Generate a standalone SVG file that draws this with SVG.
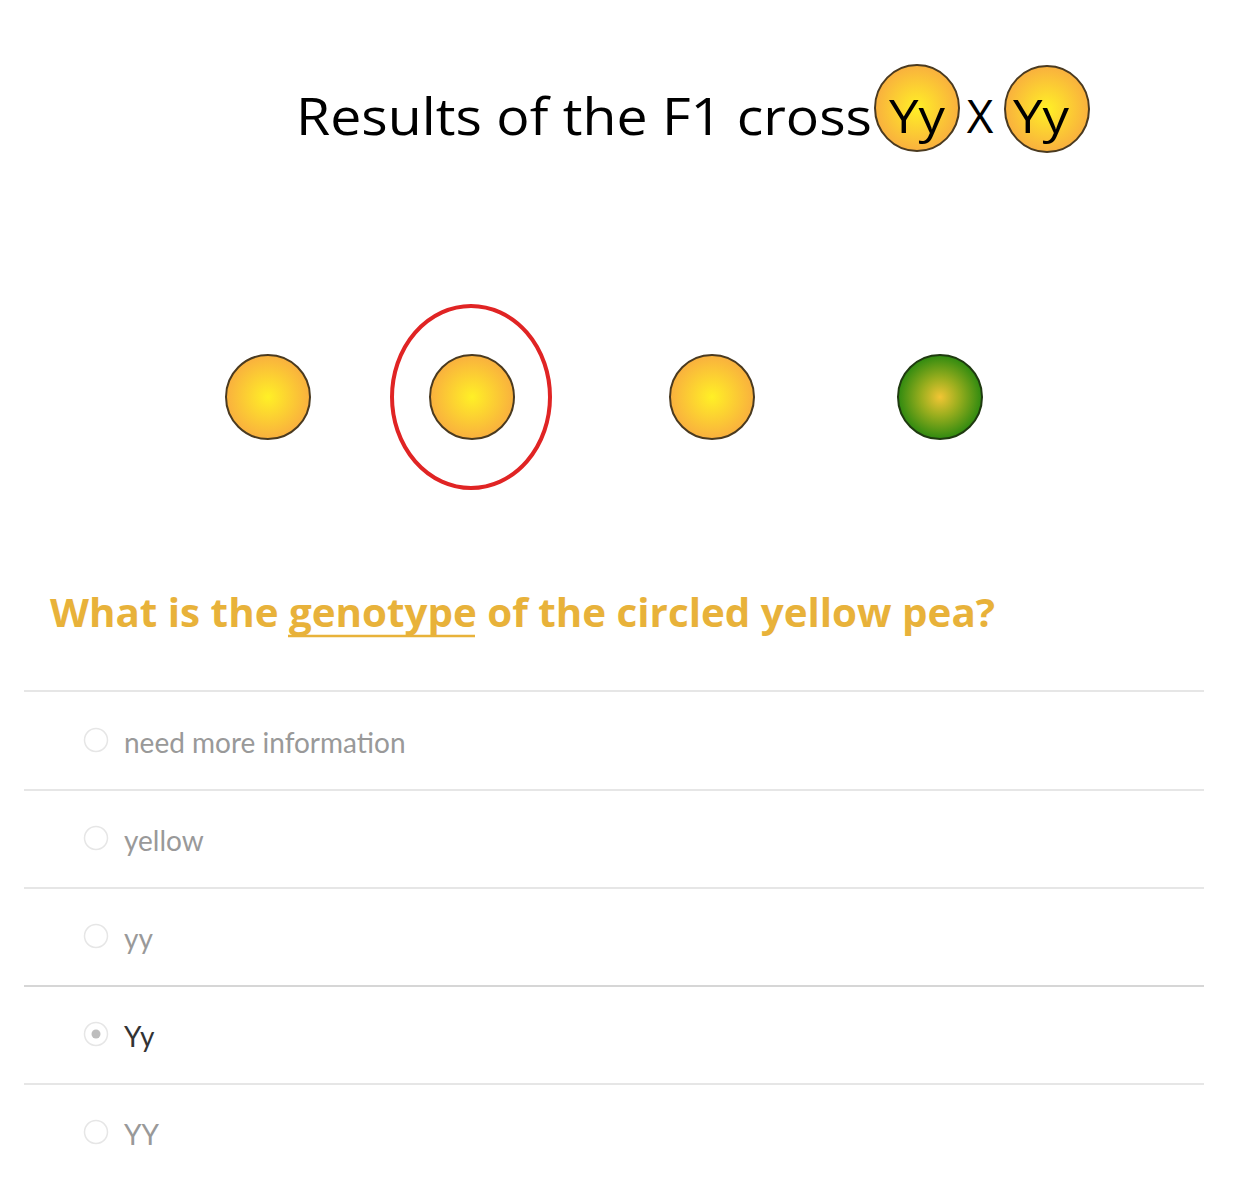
<svg xmlns="http://www.w3.org/2000/svg" width="1240" height="1202" viewBox="0 0 1240 1202">
<defs>
<radialGradient id="gy" cx="50%" cy="50%" r="50%">
<stop offset="0" stop-color="#FFF026"/>
<stop offset="1" stop-color="#F9B03E"/>
</radialGradient>
<radialGradient id="gg" cx="50%" cy="50%" r="50%">
<stop offset="0" stop-color="#F2C534"/>
<stop offset="0.45" stop-color="#9AAE1E"/>
<stop offset="1" stop-color="#2F8A10"/>
</radialGradient>
<style>
.pea{stroke:#4a3a20;stroke-width:2}
.sep{stroke:#e6e6e6;stroke-width:2}
.radio{fill:#fff;stroke:#e6e6e6;stroke-width:1.5}
.opt{font-family:Lato,"Open Sans",sans-serif;font-size:28px;fill:#999}
.title{font-family:"Open Sans","Liberation Sans",sans-serif;fill:#000}
</style>
</defs>
<rect width="1240" height="1202" fill="#fff"/>
<g id="title">
<text class="title" x="296" y="135" font-size="52" textLength="576" lengthAdjust="spacingAndGlyphs">Results of the F1 cross</text>
</g>
<g id="parent1">
<ellipse cx="917" cy="108" rx="42" ry="43" fill="url(#gy)" class="pea"/>
<text class="title" x="917" y="133" font-size="46" text-anchor="middle" textLength="56" lengthAdjust="spacingAndGlyphs">Yy</text>
</g>
<g id="cross">
<text class="title" x="980" y="133" font-size="46" text-anchor="middle">X</text>
</g>
<g id="parent2">
<ellipse cx="1047" cy="109" rx="42" ry="43" fill="url(#gy)" class="pea"/>
<text class="title" x="1041" y="133" font-size="46" text-anchor="middle" textLength="56" lengthAdjust="spacingAndGlyphs">Yy</text>
</g>
<g id="pea1"><circle cx="268" cy="397" r="42" fill="url(#gy)" class="pea"/></g>
<g id="pea2">
<circle cx="472" cy="397" r="42" fill="url(#gy)" class="pea"/>
<ellipse cx="471" cy="397" rx="79" ry="91" fill="none" stroke="#E02424" stroke-width="4"/>
</g>
<g id="pea3"><circle cx="712" cy="397" r="42" fill="url(#gy)" class="pea"/></g>
<g id="pea4"><circle cx="940" cy="397" r="42" fill="url(#gg)" stroke="#1f3a10" stroke-width="2"/></g>
<g id="question">
<text x="50" y="627" font-family="'Open Sans','Liberation Sans',sans-serif" font-weight="bold" font-size="40" fill="#E8B23A" textLength="945" lengthAdjust="spacingAndGlyphs">What is the genotype of the circled yellow pea?</text>
<line x1="288" y1="636" x2="475" y2="636" stroke="#E8B23A" stroke-width="2.5"/>
</g>
<g id="connectors">
<line class="sep" x1="24" y1="691" x2="1204" y2="691"/>
<line class="sep" x1="24" y1="790" x2="1204" y2="790"/>
<line class="sep" x1="24" y1="888" x2="1204" y2="888"/>
<line x1="24" y1="986" x2="1204" y2="986" stroke="#d6d6d6" stroke-width="2"/>
<line class="sep" x1="24" y1="1084" x2="1204" y2="1084"/>
</g>
<g id="opt1"><circle class="radio" cx="96" cy="740" r="11.5"/><text class="opt" x="124" y="753">need more information</text></g>
<g id="opt2"><circle class="radio" cx="96" cy="838" r="11.5"/><text class="opt" x="124" y="851">yellow</text></g>
<g id="opt3"><circle class="radio" cx="96" cy="936" r="11.5"/><text class="opt" x="124" y="949">yy</text></g>
<g id="opt4"><circle class="radio" cx="96" cy="1034" r="11.5"/><circle cx="96" cy="1034" r="4.5" fill="#bdbdbd"/><text class="opt" x="124" y="1047" style="fill:#333">Yy</text></g>
<g id="opt5"><circle class="radio" cx="96" cy="1132" r="11.5"/><text class="opt" x="124" y="1145">YY</text></g>
</svg>
